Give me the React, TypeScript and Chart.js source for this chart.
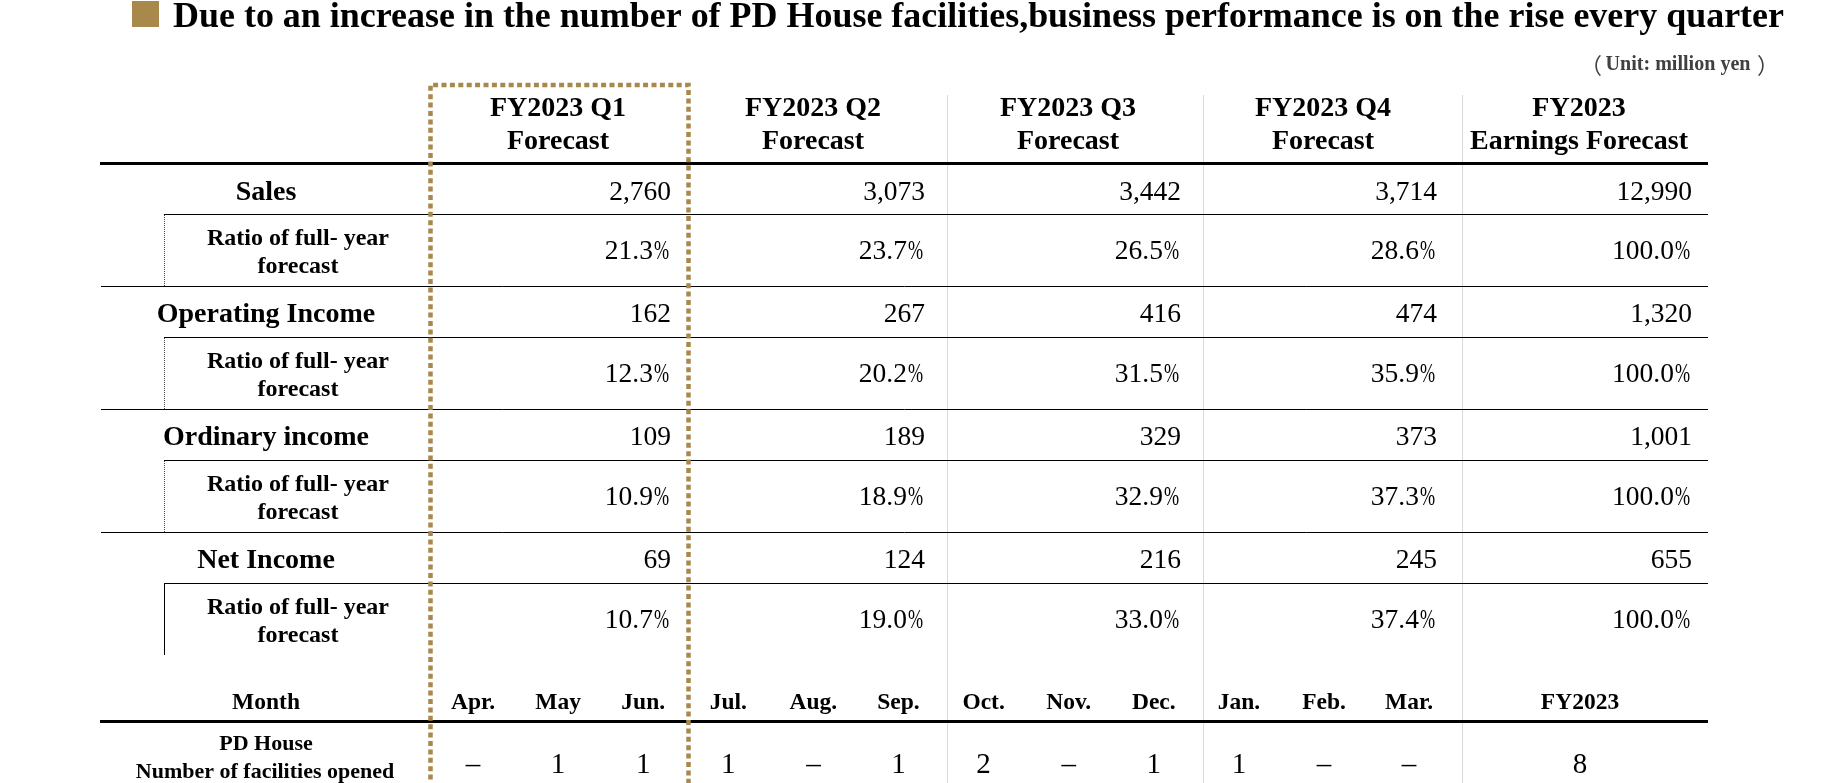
import React, { useEffect, useRef } from "react";
import { Chart, registerables } from "chart.js";

Chart.register(...registerables);

// ---------- data ----------
const titleText =
  "Due to an increase in the number of PD House facilities,business performance is on the rise every quarter";
const unitText = "Unit: million yen";
const columnTitles = ["FY2023 Q1", "FY2023 Q2", "FY2023 Q3", "FY2023 Q4", "FY2023"];
const columnSubtitles = ["Forecast", "Forecast", "Forecast", "Forecast", "Earnings Forecast"];
const metricLabels = ["Sales", "Operating Income", "Ordinary income", "Net Income"];
const ratioLabelLines = ["Ratio of full- year", "forecast"];

const sales = [2760, 3073, 3442, 3714, 12990];
const operatingIncome = [162, 267, 416, 474, 1320];
const ordinaryIncome = [109, 189, 329, 373, 1001];
const netIncome = [69, 124, 216, 245, 655];

const salesRatio = [21.3, 23.7, 26.5, 28.6, 100.0];
const operatingRatio = [12.3, 20.2, 31.5, 35.9, 100.0];
const ordinaryRatio = [10.9, 18.9, 32.9, 37.3, 100.0];
const netRatio = [10.7, 19.0, 33.0, 37.4, 100.0];

const monthHeader = "Month";
const months = ["Apr.", "May", "Jun.", "Jul.", "Aug.", "Sep.", "Oct.", "Nov.", "Dec.", "Jan.", "Feb.", "Mar."];
const yearLabel = "FY2023";
const facilitiesLabelLines = ["PD House", "Number of facilities opened"];
const facilitiesOpened = [0, 1, 1, 1, 0, 1, 2, 0, 1, 1, 0, 0];
const facilitiesTotal = 8;

// ---------- layout / style ----------
const W = 1843;
const H = 783;
const SERIF = '"Liberation Serif", "Times New Roman", serif';
const CJK = '"Noto Sans CJK JP", "Liberation Serif", serif';
const GOLD = "#A8884B";
const GRAY = "#d9d9d9";

const L = {
  square: { x: 132, y: 1, w: 27, h: 26 },
  title: { x: 173, base: 27, width: 1611, size: 35 },
  unit: { center: 1678, width: 145, base: 70, lp: 1598, rp: 1761 },
  tableLeft: 101,
  subLeft: 164,
  tableRight: 1708,
  labelCenter: 266,
  ratioLabelCenter: 298,
  headerCenter: [558, 813, 1068, 1323, 1579],
  headerBase: [116, 149],
  valueRight: [671, 925, 1181, 1437, 1692],
  grayLines: [947, 1203, 1462],
  grayTop: 95,
  box: { left: 430.5, right: 688.5, top: 85 },
  headerRule: 163.5,
  metricTops: [164, 286, 409, 532],
  ratioTops: [214, 337, 460, 583],
  ratioBottom: [286, 409, 532, 655],
  monthStart: 473,
  monthStep: 85.1,
  fyCenter: 1580,
  monthBase: 709,
  monthRule: 721.5,
  facBase: [750, 778],
  facValueBase: 773,
};

const fmtNum = (v: number) => v.toLocaleString("en-US");
const fmtPctNum = (v: number) => v.toFixed(1);
const fmtCount = (v: number) => (v === 0 ? "\u2013" : String(v));

const metricValues = [sales, operatingIncome, ordinaryIncome, netIncome];
const ratioValues = [salesRatio, operatingRatio, ordinaryRatio, netRatio];

function drawText(
  ctx: CanvasRenderingContext2D,
  s: string,
  x: number,
  y: number,
  font: string,
  align: CanvasTextAlign,
  color = "#000",
  fitWidth?: number
) {
  ctx.save();
  ctx.font = font;
  ctx.textAlign = align;
  ctx.textBaseline = "alphabetic";
  ctx.fillStyle = color;
  if (fitWidth) {
    const w = ctx.measureText(s).width;
    const k = fitWidth / w;
    ctx.translate(x, y);
    ctx.scale(k, 1);
    ctx.fillText(s, 0, 0);
  } else {
    ctx.fillText(s, x, y);
  }
  ctx.restore();
}

// draw a glyph so its ink is centered on x
function drawInkCentered(ctx: CanvasRenderingContext2D, s: string, x: number, y: number, font: string, color: string) {
  ctx.save();
  ctx.font = font;
  ctx.textAlign = "left";
  ctx.textBaseline = "alphabetic";
  ctx.fillStyle = color;
  const m = ctx.measureText(s);
  const inkL = -m.actualBoundingBoxLeft;
  const inkR = m.actualBoundingBoxRight;
  ctx.fillText(s, x - (inkL + inkR) / 2, y);
  ctx.restore();
}

// number + narrow percent sign, right-aligned at x
function drawPercent(ctx: CanvasRenderingContext2D, num: string, x: number, y: number, size: number) {
  ctx.save();
  ctx.font = `${size}px ${SERIF}`;
  ctx.textBaseline = "alphabetic";
  ctx.fillStyle = "#000";
  const pw = ctx.measureText("%").width;
  const k = 0.66;
  ctx.save();
  ctx.translate(x - pw * k, y);
  ctx.scale(k, 1);
  ctx.textAlign = "left";
  ctx.fillText("%", 0, 0);
  ctx.restore();
  ctx.textAlign = "right";
  ctx.fillText(num, x - pw * k - 1, y);
  ctx.restore();
}

const tablePlugin = {
  id: "tablePlugin",
  beforeDraw(chart: any) {
    const ctx = chart.ctx as CanvasRenderingContext2D;
    ctx.save();
    ctx.fillStyle = "#ffffff";
    ctx.fillRect(0, 0, chart.width, chart.height);
    ctx.restore();
  },
  afterDraw(chart: any) {
    const ctx = chart.ctx as CanvasRenderingContext2D;
    const xs = chart.scales.x;
    const ys = chart.scales.y;
    const X = (v: number) => xs.getPixelForValue(v);
    const Y = (v: number) => ys.getPixelForValue(v);

    const hline = (x1: number, x2: number, y: number, w: number, color = "#000", dash: number[] = []) => {
      ctx.save();
      ctx.beginPath();
      ctx.setLineDash(dash);
      ctx.lineWidth = w;
      ctx.strokeStyle = color;
      ctx.moveTo(X(x1), Y(y));
      ctx.lineTo(X(x2), Y(y));
      ctx.stroke();
      ctx.restore();
    };
    const vline = (x: number, y1: number, y2: number, w: number, color = "#000", dash: number[] = []) => {
      ctx.save();
      ctx.beginPath();
      ctx.setLineDash(dash);
      ctx.lineWidth = w;
      ctx.strokeStyle = color;
      ctx.moveTo(X(x), Y(y1));
      ctx.lineTo(X(x), Y(y2));
      ctx.stroke();
      ctx.restore();
    };

    // title
    ctx.save();
    ctx.fillStyle = GOLD;
    ctx.fillRect(X(L.square.x), Y(L.square.y), L.square.w, L.square.h);
    ctx.restore();
    drawText(ctx, titleText, X(L.title.x), Y(L.title.base), `bold ${L.title.size}px ${SERIF}`, "left", "#000", L.title.width);

    // unit
    drawText(ctx, unitText, X(L.unit.center), Y(L.unit.base), `bold 20px ${SERIF}`, "center", "#404040", L.unit.width);
    drawInkCentered(ctx, "\uFF08", X(L.unit.lp), Y(L.unit.base + 3), `22px ${CJK}`, "#404040");
    drawInkCentered(ctx, "\uFF09", X(L.unit.rp), Y(L.unit.base + 3), `22px ${CJK}`, "#404040");

    // gray column separators
    L.grayLines.forEach((gx) => vline(gx + 0.5, L.grayTop, H, 1, GRAY));

    // header texts
    columnTitles.forEach((t, i) => {
      drawText(ctx, t, X(L.headerCenter[i]), Y(L.headerBase[0]), `bold 28px ${SERIF}`, "center");
      drawText(ctx, columnSubtitles[i], X(L.headerCenter[i]), Y(L.headerBase[1]), `bold 28px ${SERIF}`, "center");
    });

    // header rule
    hline(L.tableLeft - 1, L.tableRight, L.headerRule, 3);

    // metric rows
    metricLabels.forEach((lab, r) => {
      const top = L.metricTops[r];
      const base = top + 36;
      drawText(ctx, lab, X(L.labelCenter), Y(base), `bold 28px ${SERIF}`, "center");
      metricValues[r].forEach((v, c) => {
        drawText(ctx, fmtNum(v), X(L.valueRight[c]), Y(base), `27.5px ${SERIF}`, "right");
      });
      hline(L.subLeft, L.tableRight, L.ratioTops[r] + 0.5, 1);
      const rt = L.ratioTops[r];
      drawText(ctx, ratioLabelLines[0], X(L.ratioLabelCenter), Y(rt + 31), `bold 24px ${SERIF}`, "center");
      drawText(ctx, ratioLabelLines[1], X(L.ratioLabelCenter), Y(rt + 59), `bold 24px ${SERIF}`, "center");
      ratioValues[r].forEach((v, c) => {
        drawPercent(ctx, fmtPctNum(v), X(L.valueRight[c] - 2), Y(rt + 45), 27.5);
      });
      const last = r === metricLabels.length - 1;
      vline(L.subLeft + 0.5, rt + 1, L.ratioBottom[r], 1, last ? "#000" : "#444", last ? [] : [1, 1]);
      if (!last) hline(L.tableLeft, L.tableRight, L.ratioBottom[r] + 0.5, 1);
    });

    // month row
    drawText(ctx, monthHeader, X(L.labelCenter), Y(L.monthBase), `bold 23.5px ${SERIF}`, "center");
    months.forEach((m, i) => {
      drawText(ctx, m, X(L.monthStart + L.monthStep * i), Y(L.monthBase), `bold 23.5px ${SERIF}`, "center");
    });
    drawText(ctx, yearLabel, X(L.fyCenter), Y(L.monthBase), `bold 23.5px ${SERIF}`, "center");
    hline(L.tableLeft - 1, L.tableRight, L.monthRule, 3);

    // facilities row
    drawText(ctx, facilitiesLabelLines[0], X(L.labelCenter), Y(L.facBase[0]), `bold 22px ${SERIF}`, "center");
    drawText(ctx, facilitiesLabelLines[1], X(L.labelCenter - 1), Y(L.facBase[1]), `bold 22px ${SERIF}`, "center");
    facilitiesOpened.forEach((v, i) => {
      drawText(ctx, fmtCount(v), X(L.monthStart + L.monthStep * i), Y(L.facValueBase), `29px ${SERIF}`, "center");
    });
    drawText(ctx, String(facilitiesTotal), X(L.fyCenter), Y(L.facValueBase), `29px ${SERIF}`, "center");

    // dashed highlight box around Q1
    ctx.save();
    ctx.setLineDash([5, 3.4]);
    ctx.lineWidth = 4.5;
    ctx.strokeStyle = GOLD;
    ctx.beginPath();
    ctx.moveTo(X(L.box.left), Y(H + 5));
    ctx.lineTo(X(L.box.left), Y(L.box.top));
    ctx.lineTo(X(L.box.right), Y(L.box.top));
    ctx.lineTo(X(L.box.right), Y(H + 5));
    ctx.stroke();
    ctx.restore();
  },
};

export default function App() {
  const canvasRef = useRef<HTMLCanvasElement | null>(null);

  useEffect(() => {
    document.body.style.margin = "0";
    const canvas = canvasRef.current;
    if (!canvas) return;
    const chart = new Chart(canvas, {
      type: "scatter",
      data: { datasets: [{ data: [], showLine: false }] },
      options: {
        responsive: false,
        animation: false,
        devicePixelRatio: 1,
        layout: { padding: 0 },
        plugins: { legend: { display: false }, tooltip: { enabled: false } },
        scales: {
          x: { type: "linear", min: 0, max: W, display: false },
          y: { type: "linear", min: 0, max: H, reverse: true, display: false },
        },
      },
      plugins: [tablePlugin],
    });
    return () => chart.destroy();
  }, []);

  return (
    <div style={{ width: W, height: H, overflow: "hidden" }}>
      <canvas ref={canvasRef} width={W} height={H} style={{ display: "block" }} />
    </div>
  );
}
